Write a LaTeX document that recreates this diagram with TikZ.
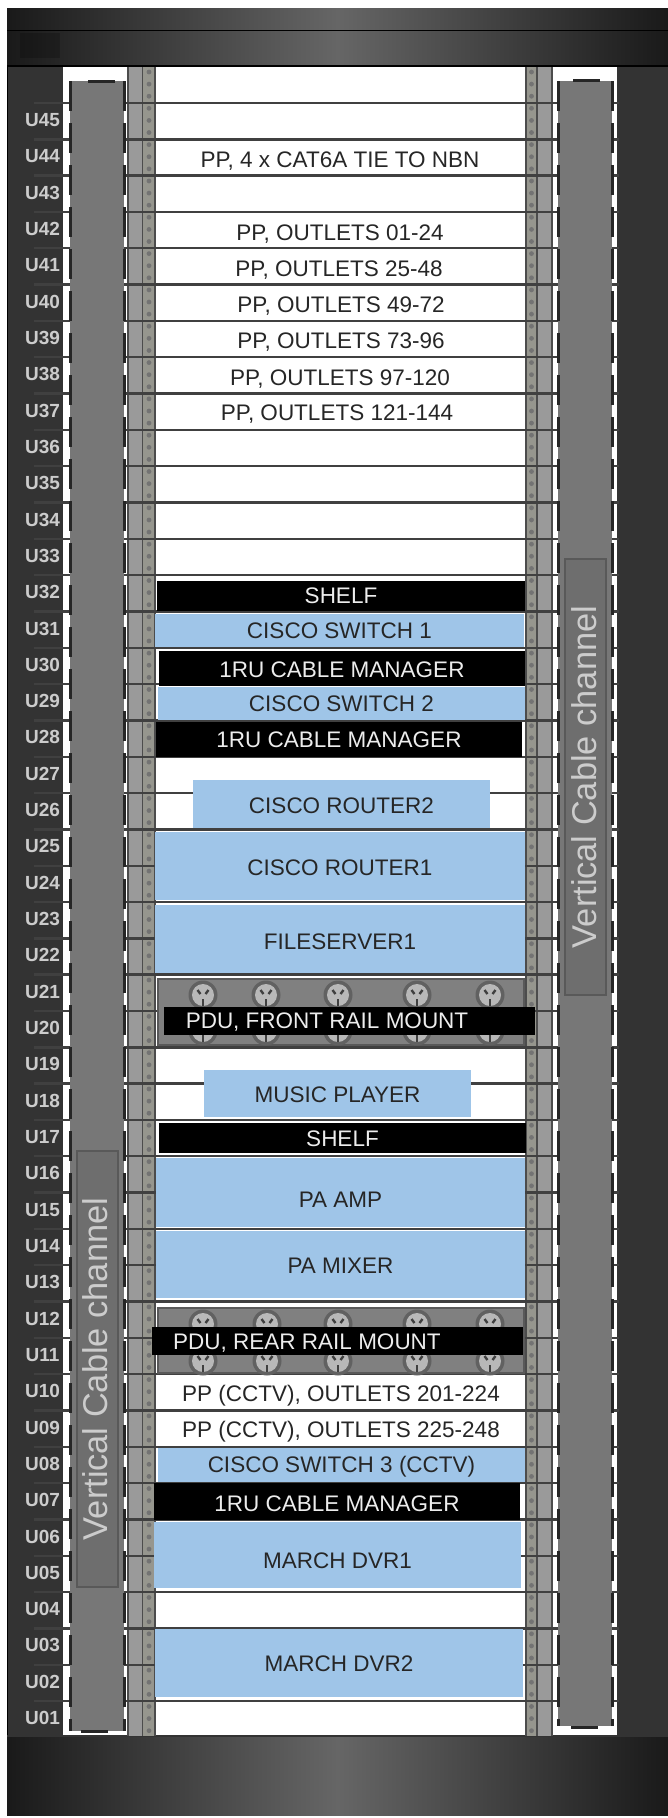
\documentclass[tikz,border=0pt]{standalone}
\usepackage{fontspec}
\setmainfont{Liberation Sans}
\usepackage{tikz}

\definecolor{devblue}{HTML}{9FC5E8}
\definecolor{panelgray}{HTML}{333333}
\definecolor{railgray}{HTML}{9A9A9A}
\definecolor{railstrip}{HTML}{96968E}
\definecolor{duct}{HTML}{777777}
\definecolor{ducttag}{HTML}{6E6E6E}

\tikzset{
  devtext/.style={font=\fontsize{22.5}{24}\selectfont},
  bluebox/.style={fill=devblue, draw=none, text=black!85, devtext},
  blackbox/.style={fill=black, draw=none, text=white!93!black, devtext},
  rowline/.style={line width=2.4pt, draw=black!75},
  ulabel/.style={font=\fontsize{19}{20}\selectfont\bfseries, text=white!80!black},
  ductedge/.style={line width=3pt, draw=black!85, dash pattern=on 30pt off 12pt},
  ductcap/.style={line width=3pt, draw=black!85},
  ducttagbox/.style={fill=ducttag, draw=black!65, line width=1.2pt},
  ducttext/.style={font=\fontsize{34.4}{36}\selectfont, text=white!80!black, rotate=90},
  capband/.style={left color=black!90, right color=black!90, middle color=black!60},
  pdupanel/.style={fill=black!50, draw=black!65, line width=1.5pt},
  socket/.pic={
    \fill[black!62] (0,0) circle (14.5);
    \fill[white!72!black] (0,0) circle (11);
    \draw[black!75, line width=2.4pt] (-5.5,-5) -- (-2.5,-1);
    \draw[black!75, line width=2.4pt] (5.5,-5) -- (2.5,-1);
    \draw[black!75, line width=2.8pt] (0,4) -- (0,11);
  }
}

\begin{document}
\begin{tikzpicture}[x=1pt, y=-1pt]
  \useasboundingbox (0,0) rectangle (668,1818);

  % cabinet
  \fill[panelgray] (7,8) rectangle (668,1815);
  \fill[white] (63,67) rectangle (617,1736);
  \draw[black, line width=1pt] (7,8) -- (7,1815);
  \fill[capband] (7,8) rectangle (668,30);
  \fill[capband] (7,31) rectangle (668,66);
  \fill[black, opacity=0.2] (20,33) rectangle (60,58);
  \draw[black, line width=1.5pt] (7,30.5) -- (668,30.5);
  \draw[black, line width=1.5pt] (7,66) -- (668,66);
  \fill[capband] (7,1736) rectangle (668,1815);
  \draw[black!80, line width=1.2pt] (7,1736) -- (668,1736);

  % rails
  \fill[railgray] (128,67) rectangle (142.5,1736);
  \fill[railstrip] (142.5,67) rectangle (155,1736);
  \fill[railstrip] (526,67) rectangle (537,1736);
  \fill[railgray] (537,67) rectangle (552,1736);
  \foreach \x in {128,142.5,155,526,537,552}
    \draw[black!70, line width=1.2pt] (\x,67) -- (\x,1736);

  % rack units
  \foreach \i in {0,...,44}
    \draw[rowline] (34,{103+36.32*\i}) -- (619,{103+36.32*\i});
  \foreach \i in {1,...,45}
    \node[ulabel] (u\i) at (42.5,{(45-\i)*36.32+120}) {U\ifnum\i<10 0\fi\i};
  \foreach \i in {0,...,137} {
    \fill[black!55] (149,{72+12.107*\i}) circle (2.4);
    \fill[black!55] (531.5,{72+12.107*\i}) circle (2.4);
  }

  % cable channels
  \fill[duct] (70,81) rectangle (124,1731);
  \draw[ductedge] (70,81) -- (70,1731);
  \draw[ductedge] (124,81) -- (124,1731);
  \draw[ductcap] (88,81) -- (115,81);
  \draw[ductcap] (81,1731) -- (108,1731);
  \draw[ducttagbox] (77,1151) rectangle (118,1587);
  \node[ducttext] (ductleft) at (95,1369) {Vertical Cable channel};

  \fill[duct] (558,81) rectangle (612,1726);
  \draw[ductedge] (558,81) -- (558,1726);
  \draw[ductedge] (612,81) -- (612,1726);
  \draw[ductcap] (573,80) -- (600,80);
  \draw[ductcap] (571,1727) -- (598,1727);
  \draw[ducttagbox] (565,559) rectangle (606,995);
  \node[ducttext] (ductright) at (584,777) {Vertical Cable channel};

  % patch panels
  \node[devtext, text=black!85] (pp0) at (340,161) {PP, 4 x CAT6A TIE TO NBN};
  \node[devtext, text=black!85] (pp1) at (340,234) {PP, OUTLETS 01-24};
  \node[devtext, text=black!85] (pp2) at (339,270) {PP, OUTLETS 25-48};
  \node[devtext, text=black!85] (pp3) at (341,306) {PP, OUTLETS 49-72};
  \node[devtext, text=black!85] (pp4) at (341,342) {PP, OUTLETS 73-96};
  \node[devtext, text=black!85] (pp5) at (340,379) {PP, OUTLETS 97-120};
  \node[devtext, text=black!85] (pp6) at (337,414) {PP, OUTLETS 121-144};

  % switches and managers
  \draw[blackbox] (157,581) rectangle (525,611) node [midway] (shelf1) {SHELF};
  \draw[bluebox] (155,614) rectangle (524,647) node [midway] (switch1) {CISCO SWITCH 1};
  \draw[blackbox] (159,651) rectangle (525,686) node [midway, yshift=-1pt] (cable1) {1RU CABLE MANAGER};
  \draw[bluebox] (158,687) rectangle (525,720) node [midway] (switch2) {CISCO SWITCH 2};
  \draw[blackbox] (156,722) rectangle (522,757) node [midway] (cable2) {1RU CABLE MANAGER};

  \draw[bluebox] (193,780) rectangle (490,828) node [midway, yshift=-2pt] (router2) {CISCO ROUTER2};
  \draw[bluebox] (155,832) rectangle (525,900) node [midway, yshift=-2pt] (router1) {CISCO ROUTER1};
  \draw[bluebox] (155,905) rectangle (525,973) node [midway, yshift=-3pt] (fileserver) {FILESERVER1};

  % front pdu
  \draw[pdupanel] (158,979) rectangle (524,1045);
  \foreach \x in {203,266,338,417,490} {
    \pic at (\x,995) {socket};
    \pic at (\x,1031) {socket};
  }
  \fill[black] (164,1007) rectangle (535,1035);
  \node[devtext, text=white!93!black] (pdufront) at (327,1022) {PDU, FRONT RAIL MOUNT};

  \draw[bluebox] (204,1070) rectangle (471,1117) node [midway, yshift=-1pt] (music) {MUSIC PLAYER};
  \draw[blackbox] (159,1123) rectangle (526,1153) node [midway, yshift=-1pt] (shelf2) {SHELF};
  \draw[bluebox] (156,1158) rectangle (525,1227) node [midway, yshift=-7pt] (amp) {PA AMP};
  \draw[bluebox] (156,1231) rectangle (525,1298) node [midway, yshift=-1pt] (mixer) {PA MIXER};

  % rear pdu
  \draw[pdupanel] (158,1308) rectangle (524,1373);
  \foreach \x in {203,267,338,417,490} {
    \pic at (\x,1324) {socket};
    \pic at (\x,1361) {socket};
  }
  \fill[black] (152,1327) rectangle (523,1355);
  \node[devtext, text=white!93!black] (pdurear) at (307,1343) {PDU, REAR RAIL MOUNT};

  \node[devtext, text=black!85] (pp7) at (341,1396) {PP (CCTV), OUTLETS 201-224};
  \node[devtext, text=black!85] (pp8) at (341,1432) {PP (CCTV), OUTLETS 225-248};

  \draw[bluebox] (158,1448) rectangle (525,1482) node [midway, yshift=-2pt] (switch3) {CISCO SWITCH 3 (CCTV)};
  \draw[blackbox] (154,1483) rectangle (520,1520) node [midway, yshift=-2pt] (cable3) {1RU CABLE MANAGER};
  \draw[bluebox] (154,1522) rectangle (521,1588) node [midway, yshift=-6pt] (dvr1) {MARCH DVR1};
  \draw[bluebox] (155,1629) rectangle (523,1697) node [midway, yshift=-1pt] (dvr2) {MARCH DVR2};
\end{tikzpicture}
\end{document}
